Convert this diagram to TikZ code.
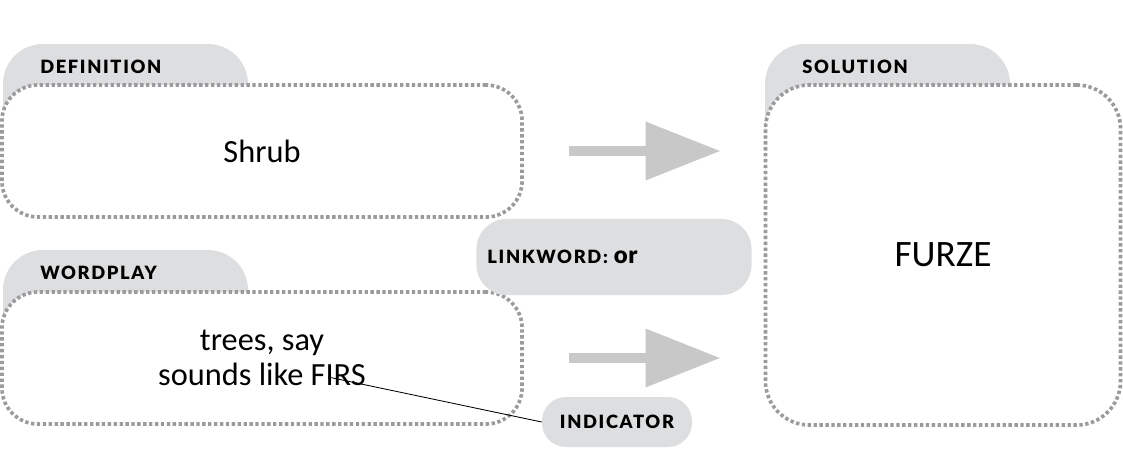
\documentclass[tikz,border=0pt]{standalone}
\usepackage{fontspec}
\setmainfont{Carlito}
\newfontfamily\labelfont[LetterSpace=9, BoldFont={Lato Black}]{Lato}
\usetikzlibrary{arrows.meta}
\definecolor{tabfill}{RGB}{221,222,224}
\definecolor{dotline}{RGB}{155,155,158}
\definecolor{arrowfill}{RGB}{200,200,201}

\tikzset{
  cluebox/.style={draw=dotline, line width=2.6pt, dash pattern=on 2.4pt off 1.8pt,
    fill=white, rounded corners=0.9cm, align=center, font=\fontsize{23}{25}\selectfont},
  tablabel/.style={anchor=base west, inner sep=0pt, font=\labelfont\bfseries\fontsize{13}{15}\selectfont},
  pill/.style={fill=tabfill, rounded corners=0.75cm},
  bigarrow/.style={draw=arrowfill, line width=0.25cm, -{Triangle[length=1.875cm, width=1.4cm, fill=arrowfill]}},
}

\begin{document}
\begin{tikzpicture}[x=0.025cm, y=-0.025cm]
  \useasboundingbox (0,0) rectangle (1123,449);

  % --- Tabs behind the boxes ---
  \fill[tabfill, rounded corners=1cm] (3,44) rectangle (248,200);
  \fill[tabfill, rounded corners=1cm] (3,250) rectangle (248,400);
  \fill[tabfill, rounded corners=1cm] (765,44) rectangle (1010,300);

  % --- Left: definition and wordplay ---
  \node[cluebox, minimum width=13cm, minimum height=3.3cm] (defbox) at (262,151) {Shrub};
  \node[cluebox, minimum width=13cm, minimum height=3.3cm, text depth=0pt] (wordbox) at (262,358)
    {trees, say\\sounds like FIRS};
  \node[tablabel] (deflabel) at (40,73) {DEFINITION};
  \node[tablabel] (wordlabel) at (40,279) {WORDPLAY};

  % --- Right: solution ---
  \node[cluebox, rounded corners=1.1cm, minimum width=8.875cm, minimum height=8.5cm,
    font=\fontsize{26.5}{30}\selectfont] (solbox) at (943,255) {FURZE};
  \node[tablabel] (sollabel) at (802,73) {SOLUTION};

  % --- Arrows ---
  \draw[bigarrow, shorten <=1.125cm, shorten >=1.075cm] (defbox.east) -- (defbox.east -| solbox.west);
  \draw[bigarrow, shorten <=1.125cm, shorten >=1.075cm] (wordbox.east) -- (wordbox.east -| solbox.west);

  % --- Linkword and indicator ---
  \node[pill, minimum width=6.875cm, minimum height=1.9cm, inner xsep=0.275cm,
    text width=6.325cm, align=left, font=\labelfont\bfseries\fontsize{13}{15}\selectfont]
    (linkword) at (614,257) {LINKWORD: {\addfontfeature{LetterSpace=2}\fontsize{17}{15}\selectfont or}};
  \node[pill, rounded corners=0.6cm, minimum width=3.75cm, minimum height=1.25cm,
    font=\labelfont\bfseries\fontsize{13}{15}\selectfont] (indicator) at (617,422) {INDICATOR};

  \coordinate (firs) at (328,377);
  \draw[line width=0.6pt] (firs) -- (indicator.west);
\end{tikzpicture}
\end{document}
